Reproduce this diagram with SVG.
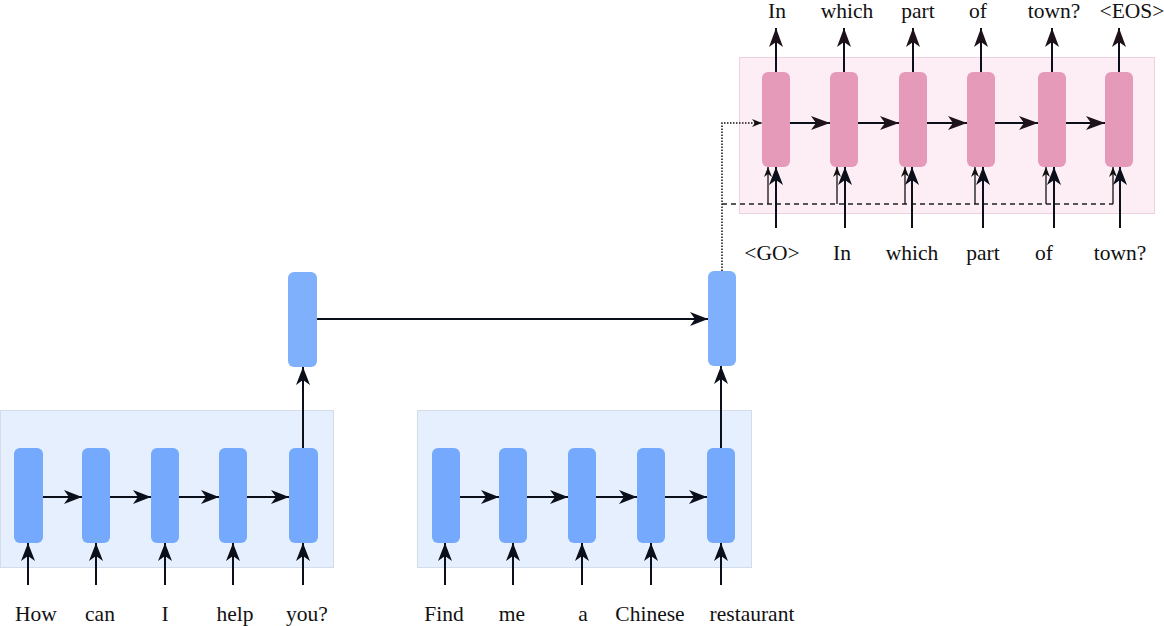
<svg xmlns="http://www.w3.org/2000/svg" width="1164" height="626" viewBox="0 0 1164 626">
<style>
.bg-enc{fill:#e6effd;stroke:#d2dcea;stroke-width:1}
.bg-dec{fill:#fdeef5;stroke:#ecd2de;stroke-width:1}
.enc{fill:#74a9fd}
.mid{fill:#7eb0fc}
.dec{fill:#e69ab9}
.ln{fill:none;stroke:#0b0f1a;stroke-width:2}
.thin{fill:none;stroke:#111;stroke-width:1.3}
.lbl{font-family:"Liberation Serif","DejaVu Serif",serif;font-size:21.5px;fill:#111;text-anchor:middle}
</style>
<defs>
<marker id="ah" markerUnits="userSpaceOnUse" markerWidth="20" markerHeight="16" refX="18" refY="7" orient="auto"><path d="M0,0 L18,7 L0,14 L5,7 z" fill="#0b0f1a"/></marker>
<marker id="ahd" markerUnits="userSpaceOnUse" markerWidth="21" markerHeight="16" refX="19" refY="7" orient="auto"><path d="M0,0 L19,7 L0,14 L5,7 z" fill="#1e121a"/></marker>
<marker id="ahs" markerUnits="userSpaceOnUse" markerWidth="12" markerHeight="10" refX="10" refY="4" orient="auto"><path d="M0,0 L10,4 L0,8 L3,4 z" fill="#111"/></marker>
</defs>
<rect class="bg-enc" x="0.5" y="410.5" width="333" height="157"/>
<rect class="bg-enc" x="417.5" y="410.5" width="334" height="157"/>
<rect class="bg-dec" x="739.5" y="57.5" width="415" height="156"/>
<g id="e1c1"><rect class="enc" x="14" y="448" width="29" height="95" rx="6"/></g>
<g id="e1c2"><rect class="enc" x="82" y="448" width="28" height="95" rx="6"/></g>
<g id="e1c3"><rect class="enc" x="151" y="448" width="28" height="95" rx="6"/></g>
<g id="e1c4"><rect class="enc" x="219" y="448" width="28" height="95" rx="6"/></g>
<g id="e1c5"><rect class="enc" x="289" y="448" width="29" height="95" rx="6"/></g>
<g id="e2c1"><rect class="enc" x="432" y="448" width="28" height="95" rx="6"/></g>
<g id="e2c2"><rect class="enc" x="499" y="448" width="28" height="95" rx="6"/></g>
<g id="e2c3"><rect class="enc" x="568" y="448" width="28" height="95" rx="6"/></g>
<g id="e2c4"><rect class="enc" x="637" y="448" width="28" height="95" rx="6"/></g>
<g id="e2c5"><rect class="enc" x="707" y="448" width="28" height="95" rx="6"/></g>
<g id="m1"><rect class="mid" x="288" y="272" width="29" height="95" rx="6"/></g>
<g id="m2"><rect class="mid" x="708" y="271" width="28" height="95" rx="6"/></g>
<g id="d1"><rect class="dec" x="762" y="72" width="28" height="95" rx="6"/></g>
<g id="d2"><rect class="dec" x="830" y="72" width="28" height="95" rx="6"/></g>
<g id="d3"><rect class="dec" x="899" y="72" width="28" height="95" rx="6"/></g>
<g id="d4"><rect class="dec" x="967" y="72" width="28" height="95" rx="6"/></g>
<g id="d5"><rect class="dec" x="1038" y="72" width="28" height="95" rx="6"/></g>
<g id="d6"><rect class="dec" x="1105" y="72" width="28" height="95" rx="6"/></g>
<g id="connectors">
<path class="ln" d="M43,497 H82" marker-end="url(#ah)"/>
<path class="ln" d="M110,497 H151" marker-end="url(#ah)"/>
<path class="ln" d="M179,497 H219" marker-end="url(#ah)"/>
<path class="ln" d="M247,497 H289" marker-end="url(#ah)"/>
<path class="ln" d="M28,585 V543" marker-end="url(#ah)"/>
<path class="ln" d="M96,585 V543" marker-end="url(#ah)"/>
<path class="ln" d="M165,585 V543" marker-end="url(#ah)"/>
<path class="ln" d="M233,585 V543" marker-end="url(#ah)"/>
<path class="ln" d="M303,585 V543" marker-end="url(#ah)"/>
<path class="ln" d="M303,448 V367" marker-end="url(#ah)"/>
<path class="ln" d="M460,497 H499" marker-end="url(#ah)"/>
<path class="ln" d="M527,497 H568" marker-end="url(#ah)"/>
<path class="ln" d="M596,497 H637" marker-end="url(#ah)"/>
<path class="ln" d="M665,497 H707" marker-end="url(#ah)"/>
<path class="ln" d="M445,585 V543" marker-end="url(#ah)"/>
<path class="ln" d="M513,585 V543" marker-end="url(#ah)"/>
<path class="ln" d="M582,585 V543" marker-end="url(#ah)"/>
<path class="ln" d="M651,585 V543" marker-end="url(#ah)"/>
<path class="ln" d="M721,585 V543" marker-end="url(#ah)"/>
<path class="ln" d="M721,448 V366" marker-end="url(#ah)"/>
<path class="ln" d="M317,319 H708" marker-end="url(#ah)"/>
<path d="M722,271 V123 H762" fill="none" stroke="#111" stroke-width="1.5" stroke-dasharray="1.5 1.5" marker-end="url(#ahs)"/>
<path d="M722,204 H1113" fill="none" stroke="#222" stroke-width="1.3" stroke-dasharray="5 4"/>
<path class="ln" d="M790,123 H830" stroke="#1e121a" marker-end="url(#ahd)"/>
<path class="ln" d="M858,123 H899" stroke="#1e121a" marker-end="url(#ahd)"/>
<path class="ln" d="M927,123 H967" stroke="#1e121a" marker-end="url(#ahd)"/>
<path class="ln" d="M995,123 H1038" stroke="#1e121a" marker-end="url(#ahd)"/>
<path class="ln" d="M1066,123 H1105" stroke="#1e121a" marker-end="url(#ahd)"/>
<path class="ln" d="M776,72 V28" stroke="#000" marker-end="url(#ahd)"/>
<path class="ln" d="M844,72 V28" stroke="#000" marker-end="url(#ahd)"/>
<path class="ln" d="M913,72 V28" stroke="#000" marker-end="url(#ahd)"/>
<path class="ln" d="M981,72 V28" stroke="#000" marker-end="url(#ahd)"/>
<path class="ln" d="M1052,72 V28" stroke="#000" marker-end="url(#ahd)"/>
<path class="ln" d="M1119,72 V28" stroke="#000" marker-end="url(#ahd)"/>
<path class="ln" d="M776,228 V167" stroke="#111" marker-end="url(#ah)"/>
<path class="ln" d="M845,228 V167" stroke="#111" marker-end="url(#ah)"/>
<path class="ln" d="M912,228 V167" stroke="#111" marker-end="url(#ah)"/>
<path class="ln" d="M983,228 V167" stroke="#111" marker-end="url(#ah)"/>
<path class="ln" d="M1054,228 V167" stroke="#111" marker-end="url(#ah)"/>
<path class="ln" d="M1120,228 V167" stroke="#111" marker-end="url(#ah)"/>
<path class="thin" d="M768,204 V167" marker-end="url(#ahs)"/>
<path class="thin" d="M837,204 V167" marker-end="url(#ahs)"/>
<path class="thin" d="M905,204 V167" marker-end="url(#ahs)"/>
<path class="thin" d="M975,204 V167" marker-end="url(#ahs)"/>
<path class="thin" d="M1046,204 V167" marker-end="url(#ahs)"/>
<path class="thin" d="M1113,204 V167" marker-end="url(#ahs)"/>
</g>
<g id="labels">
<text class="lbl" x="36" y="621">How</text>
<text class="lbl" x="100" y="621">can</text>
<text class="lbl" x="165" y="621">I</text>
<text class="lbl" x="235" y="621">help</text>
<text class="lbl" x="307" y="621">you?</text>
<text class="lbl" x="444" y="621">Find</text>
<text class="lbl" x="512" y="621">me</text>
<text class="lbl" x="583" y="621">a</text>
<text class="lbl" x="650" y="621">Chinese</text>
<text class="lbl" x="752" y="621">restaurant</text>
<text class="lbl" x="772" y="260">&lt;GO&gt;</text>
<text class="lbl" x="842" y="260">In</text>
<text class="lbl" x="912" y="260">which</text>
<text class="lbl" x="983" y="260">part</text>
<text class="lbl" x="1044" y="260">of</text>
<text class="lbl" x="1120" y="260">town?</text>
<text class="lbl" x="777" y="18">In</text>
<text class="lbl" x="847" y="18">which</text>
<text class="lbl" x="918" y="18">part</text>
<text class="lbl" x="978" y="18">of</text>
<text class="lbl" x="1054" y="18">town?</text>
<text class="lbl" x="1132" y="18">&lt;EOS&gt;</text>
</g>
</svg>
